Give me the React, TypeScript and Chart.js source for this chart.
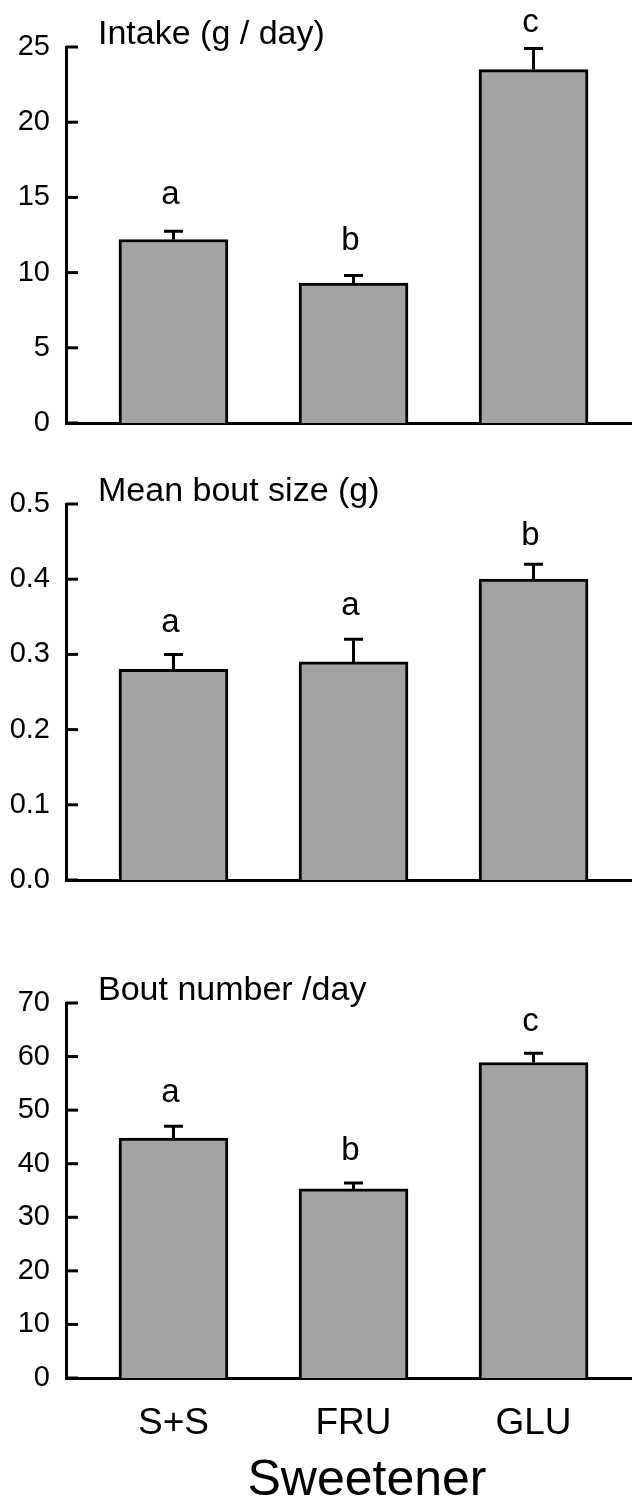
import React, { useEffect, useRef } from 'react';
import { Chart, registerables } from 'chart.js';

Chart.register(...registerables);

const FONT = '"Liberation Sans", Arial, Helvetica, sans-serif';
Chart.defaults.font.family = FONT;
Chart.defaults.color = '#000';

// ---- data ----
const categories = ['S+S', 'FRU', 'GLU'];
const categoryPositions = [0, 1, 2];

const intakeMeans = [12.2, 9.3, 23.5];
const intakeErrors = [0.55, 0.5, 1.4];
const intakeLetters = ['a', 'b', 'c'];
const intakeLetterY = [14.55, 11.5, 26.0];

const boutSizeMeans = [0.28, 0.29, 0.4];
const boutSizeErrors = [0.02, 0.03, 0.02];
const boutSizeLetters = ['a', 'a', 'b'];
const boutSizeLetterY = [0.33, 0.352, 0.445];

const boutNumberMeans = [44.8, 35.3, 58.9];
const boutNumberErrors = [2.2, 1.1, 1.7];
const boutNumberLetters = ['a', 'b', 'c'];
const boutNumberLetterY = [51.5, 40.7, 64.8];

const panelTitles = ['Intake (g / day)', 'Mean bout size (g)', 'Bout number /day'];
const xAxisTitle = 'Sweetener';

const W = 632;
const BAR_COLOR = '#a3a3a3';
const LINE_W = 3;

type PanelProps = {
  top: number;
  height: number;
  plotTop: number;
  plotBottom: number;
  title: string;
  means: number[];
  errors: number[];
  letters: string[];
  letterY: number[];
  yMax: number;
  yStep: number;
  decimals: number;
  showCategories: boolean;
  xTitle?: string;
};

function Panel(p: PanelProps) {
  const ref = useRef<HTMLCanvasElement | null>(null);
  useEffect(() => {
    if (!ref.current) return;
    const overlay = {
      id: 'overlay' + p.title,
      afterDraw(chart: any) {
        const ctx = chart.ctx as CanvasRenderingContext2D;
        const ca = chart.chartArea;
        const xs = chart.scales.x;
        const ys = chart.scales.y;
        ctx.save();
        ctx.strokeStyle = '#000';
        ctx.fillStyle = '#000';
        ctx.lineWidth = LINE_W;
        // inward tick marks
        ys.ticks.forEach((t: any) => {
          const py = ys.getPixelForValue(t.value);
          ctx.beginPath();
          ctx.moveTo(ca.left, py);
          ctx.lineTo(ca.left + 12, py);
          ctx.stroke();
        });
        // error bars
        p.means.forEach((m, i) => {
          const px = xs.getPixelForValue(categoryPositions[i]);
          const y0 = ys.getPixelForValue(m);
          const y1 = ys.getPixelForValue(m + p.errors[i]);
          ctx.beginPath();
          ctx.moveTo(px, y0);
          ctx.lineTo(px, y1);
          ctx.moveTo(px - 9.5, y1);
          ctx.lineTo(px + 9.5, y1);
          ctx.stroke();
        });
        // significance letters
        ctx.font = `33px ${FONT}`;
        ctx.textAlign = 'center';
        ctx.textBaseline = 'alphabetic';
        p.letters.forEach((l, i) => {
          const px = xs.getPixelForValue(categoryPositions[i]) - 3;
          const py = ys.getPixelForValue(p.letterY[i]);
          ctx.fillText(l, px, py);
        });
        // panel title
        ctx.font = `34px ${FONT}`;
        ctx.textAlign = 'left';
        ctx.fillText(p.title, 98, ca.top - 3);
        if (p.xTitle) {
          ctx.font = `50px ${FONT}`;
          ctx.textAlign = 'center';
          ctx.fillText(p.xTitle, (ca.left + ca.right) / 2 + 18, chart.height - 11);
        }
        ctx.restore();
      },
    };

    const chart = new Chart(ref.current, {
      type: 'bar',
      data: {
        datasets: [
          {
            data: p.means.map((m, i) => ({ x: categoryPositions[i], y: m })),
            backgroundColor: BAR_COLOR,
            borderColor: '#000',
            borderWidth: LINE_W,
            barThickness: 109,
          } as any,
        ],
      },
      options: {
        responsive: false,
        animation: false,
        events: [],
        layout: { padding: { top: p.plotTop, left: 0, right: 0, bottom: 0 } },
        plugins: { legend: { display: false }, tooltip: { enabled: false } },
        scales: {
          x: {
            type: 'linear',
            min: -0.597,
            max: 2.547,
            offset: false,
            grid: { display: false, offset: false },
            border: { display: true, color: '#000', width: LINE_W },
            afterBuildTicks: (s: any) => {
              s.ticks = categoryPositions.map((v) => ({ value: v }));
            },
            afterFit: (s: any) => {
              s.height = p.height - p.plotBottom;
            },
            ticks: {
              display: p.showCategories,
              autoSkip: false,
              maxRotation: 0,
              padding: 16,
              font: { size: 37, family: FONT },
              color: '#000',
              callback: (v: any) => {
                const idx = categoryPositions.indexOf(Number(v));
                return idx >= 0 ? categories[idx] : '';
              },
            },
          },
          y: {
            type: 'linear',
            min: 0,
            max: p.yMax,
            grid: { display: false },
            border: { display: true, color: '#000', width: LINE_W },
            afterFit: (s: any) => {
              s.width = 66;
            },
            ticks: {
              stepSize: p.yStep,
              autoSkip: false,
              padding: 8,
              font: { size: 29, family: FONT },
              color: '#000',
              callback: (v: any) => Number(v).toFixed(p.decimals),
            },
          },
        },
      } as any,
      plugins: [overlay],
    });
    return () => chart.destroy();
  }, []);

  return (
    <canvas
      ref={ref}
      width={W}
      height={p.height}
      style={{ position: 'absolute', left: 0, top: p.top, width: W, height: p.height, display: 'block' }}
    />
  );
}

export default function App() {
  return (
    <div style={{ position: 'absolute', left: 0, top: 0, width: W, height: 1506, background: '#fff', overflow: 'hidden' }}>
      <Panel
        top={0}
        height={470}
        plotTop={47}
        plotBottom={423}
        title={panelTitles[0]}
        means={intakeMeans}
        errors={intakeErrors}
        letters={intakeLetters}
        letterY={intakeLetterY}
        yMax={25}
        yStep={5}
        decimals={0}
        showCategories={false}
      />
      <Panel
        top={470}
        height={450}
        plotTop={34}
        plotBottom={410}
        title={panelTitles[1]}
        means={boutSizeMeans}
        errors={boutSizeErrors}
        letters={boutSizeLetters}
        letterY={boutSizeLetterY}
        yMax={0.5}
        yStep={0.1}
        decimals={1}
        showCategories={false}
      />
      <Panel
        top={920}
        height={586}
        plotTop={83}
        plotBottom={458}
        title={panelTitles[2]}
        means={boutNumberMeans}
        errors={boutNumberErrors}
        letters={boutNumberLetters}
        letterY={boutNumberLetterY}
        yMax={70}
        yStep={10}
        decimals={0}
        showCategories={true}
        xTitle={xAxisTitle}
      />
    </div>
  );
}
